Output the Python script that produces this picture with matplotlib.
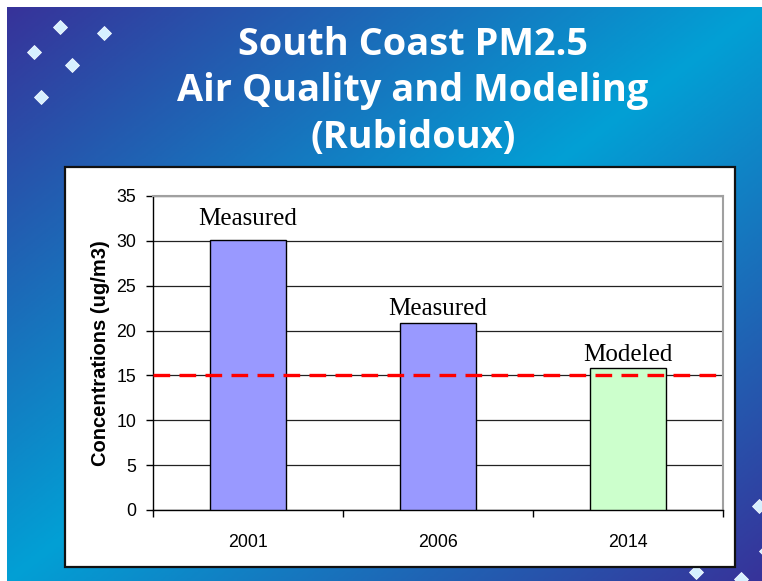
import numpy as np
import matplotlib
matplotlib.use("Agg")
import matplotlib.pyplot as plt
from matplotlib.colors import LinearSegmentedColormap
from matplotlib.patches import Rectangle

# ---- data ----
years = ["2001", "2006", "2014"]
concentrations = [30.1, 20.8, 15.8]
bar_kinds = ["Measured", "Measured", "Modeled"]
standard_level = 15
y_ticks = [0, 5, 10, 15, 20, 25, 30, 35]
title_lines = ["South Coast PM2.5", "Air Quality and Modeling", "(Rubidoux)"]
y_label = "Concentrations (ug/m3)"

W, H = 762, 581
fig = plt.figure(figsize=(W / 100, H / 100), dpi=100)

# ---- slide background ----
bg = fig.add_axes([0, 0, 1, 1])
bg.set_xlim(0, W)
bg.set_ylim(H, 0)
bg.axis("off")
sx0, sy0 = 7, 7
u = np.linspace(0, 1, 400)
v = np.linspace(0, 1, 300)
UU, VV = np.meshgrid(u, v)
T = (UU + VV) / 2
cmap = LinearSegmentedColormap.from_list(
    "slide", [(0, "#37339a"), (0.5, "#02a0d5"), (1.0, "#37339a")])
bg.imshow(T, cmap=cmap, vmin=0, vmax=1, extent=[sx0, W, H, sy0],
          aspect="auto", interpolation="bilinear", zorder=0)
bg.set_xlim(0, W)
bg.set_ylim(H, 0)

# decorative diamonds
deco = [(60, 27), (104, 33), (34, 52), (72, 65), (41, 97),
        (759, 506), (766, 551), (696, 572), (741, 579)]
for (dx, dy) in deco:
    bg.plot(dx, dy, marker="D", ms=7.5, color="#d6f0ff",
            mec="#f4fbff", mew=0.6, zorder=2, clip_on=True)

# white panel
bg.add_patch(Rectangle((65, 167), 670, 400, facecolor="white",
                       edgecolor="#111111", lw=1.6, zorder=3))

# title
for i, line in enumerate(title_lines):
    bg.text(413, 55 + i * 46.5, line, ha="center", va="baseline",
            color="white", fontsize=27.3, fontweight="bold",
            family="Open Sans", zorder=4)

# ---- chart ----
ax = fig.add_axes([153 / W, 1 - 510 / H, (723 - 153) / W, (510 - 196) / H])
ax.set_zorder(5)
x = np.arange(len(years))
colors = ["#9999ff" if k == "Measured" else "#ccffcc" for k in bar_kinds]
ax.bar(x, concentrations, width=0.405, color=colors, edgecolor="black",
       linewidth=1.0, zorder=3)
ax.axhline(standard_level, color="#ff0000", lw=2.4, ls=(0, (5, 2.8)), zorder=4)

ax.set_ylim(0, 35)
ax.set_xlim(-0.5, 2.5)
ax.set_yticks(y_ticks)
ax.set_yticklabels([str(t) for t in y_ticks], family="Liberation Sans",
                   fontsize=12.8)
ax.yaxis.grid(True, color="#222222", lw=0.9, zorder=0)
ax.set_axisbelow(True)
ax.tick_params(axis="y", direction="out", length=5, width=1, pad=7,
               colors="black")
ax.set_xticks(np.arange(len(years) + 1) - 0.5)
ax.set_xticklabels([])
ax.tick_params(axis="x", which="major", direction="out", length=5, width=1)
ax.set_xticks(x, minor=True)
ax.set_xticklabels(years, minor=True, family="Liberation Sans", fontsize=12.8)
ax.tick_params(axis="x", which="minor", length=0, pad=17)
for s in ["left", "bottom"]:
    ax.spines[s].set_color("black")
    ax.spines[s].set_linewidth(1.0)
for s in ["top", "right"]:
    ax.spines[s].set_color("#a0a0a0")
    ax.spines[s].set_linewidth(1.5)

ax.set_ylabel(y_label, family="Liberation Sans", fontweight="bold",
              fontsize=14.5, labelpad=5)

offsets = [11, 6, 5]
for xi, val, kind, off in zip(x, concentrations, bar_kinds, offsets):
    ax.annotate(kind, (xi, val), xytext=(0, off), textcoords="offset points",
                ha="center", va="baseline", family="Liberation Serif",
                fontsize=18, zorder=6)

fig.savefig("out.png", dpi=100)
